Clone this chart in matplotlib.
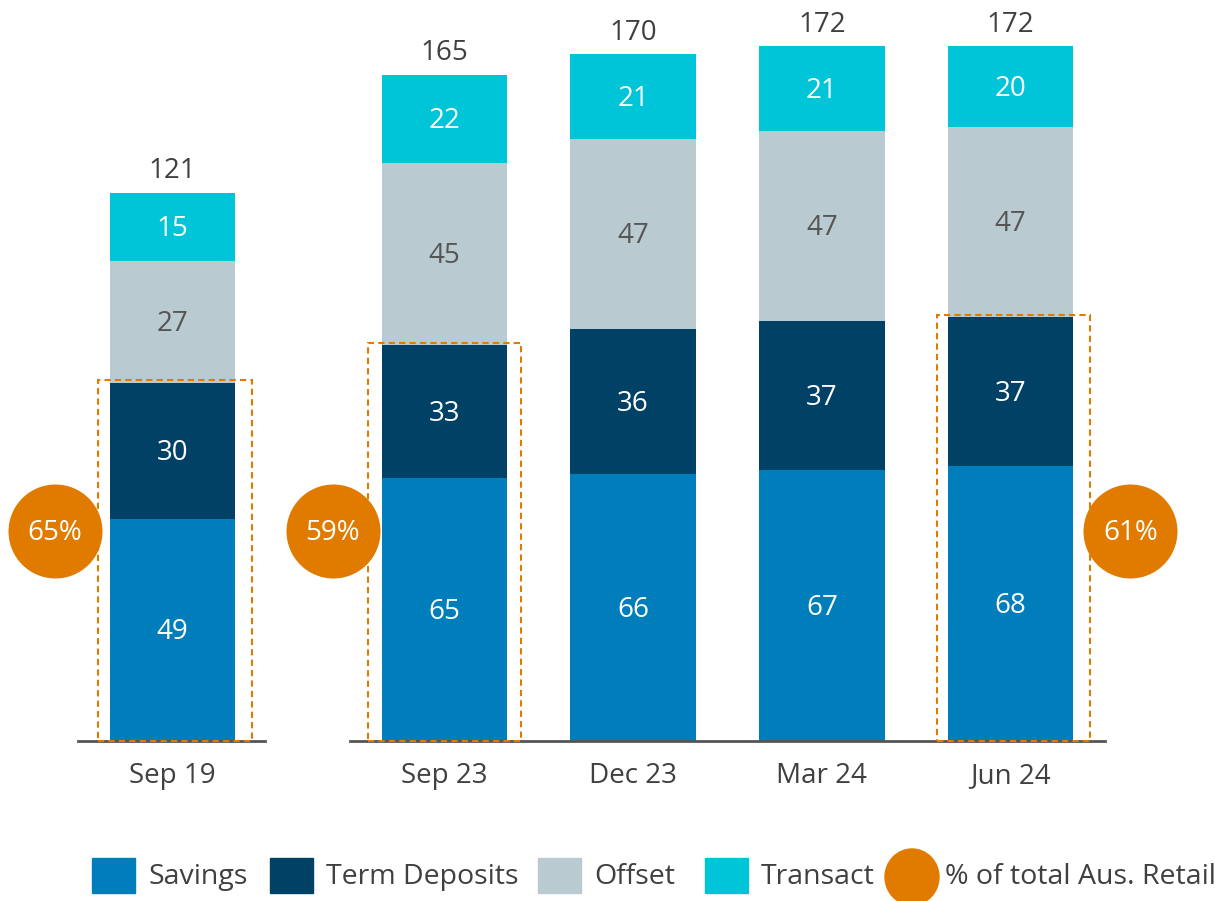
import matplotlib
matplotlib.use("Agg")
import matplotlib.pyplot as plt
from matplotlib.patches import Rectangle, Ellipse
from matplotlib.transforms import blended_transform_factory

plt.rcParams['font.family'] = ['Open Sans', 'DejaVu Sans']

categories = ['Sep 19', 'Sep 23', 'Dec 23', 'Mar 24', 'Jun 24']
savings = [49, 65, 66, 67, 68]
term_deposits = [30, 33, 36, 37, 37]
offset = [27, 45, 47, 47, 47]
transact = [15, 22, 21, 21, 20]
totals = [121, 165, 170, 172, 172]
share_idx = [0, 1, 4]
share_pct = ['65%', '59%', '61%']

C_SAV = '#007DBB'
C_TD = '#004165'
C_OFF = '#B9CAD1'
C_TR = '#00C4D7'
C_ORANGE = '#E07B00'
C_TXT = '#404040'
FS = 20

fig = plt.figure(figsize=(12.19, 9.01), dpi=100)
ax1 = fig.add_axes([78 / 1219, 160 / 901, 187 / 1219, 731 / 901])
ax2 = fig.add_axes([350 / 1219, 160 / 901, 755 / 1219, 731 / 901])

groups = [(ax1, [0], 161.4, (-0.5, 0.49)), (ax2, [1, 2, 3, 4], 181.0, (-0.5, 3.5))]
circle_dx = {0: -0.623, 1: -0.592, 4: 0.634}
rect_dx = {0: 0.012, 1: 0.0, 4: 0.015}
width = 0.665


def seg_label(ax, x, y, s, col):
    ax.annotate(s, (x, y), xytext=(0, -1.5), textcoords='offset points',
                ha='center', va='center', color=col, fontsize=FS)


for ax, idxs, ytop, xl in groups:
    xs = list(range(len(idxs)))
    sv = [savings[i] for i in idxs]
    td = [term_deposits[i] for i in idxs]
    of = [offset[i] for i in idxs]
    tr = [transact[i] for i in idxs]
    b1 = [s + t for s, t in zip(sv, td)]
    b2 = [a + o for a, o in zip(b1, of)]
    ax.bar(xs, sv, width, color=C_SAV)
    ax.bar(xs, td, width, bottom=sv, color=C_TD)
    ax.bar(xs, of, width, bottom=b1, color=C_OFF)
    ax.bar(xs, tr, width, bottom=b2, color=C_TR)
    for x, i in zip(xs, idxs):
        seg_label(ax, x, savings[i] / 2, str(savings[i]), 'white')
        seg_label(ax, x, savings[i] + term_deposits[i] / 2, str(term_deposits[i]), 'white')
        base = savings[i] + term_deposits[i]
        seg_label(ax, x, base + offset[i] / 2, str(offset[i]), '#555555')
        seg_label(ax, x, base + offset[i] + transact[i] / 2, str(transact[i]), 'white')
        ax.annotate(str(totals[i]), (x, totals[i]), xytext=(0, 15.5),
                    textcoords='offset points', ha='center', va='center',
                    color=C_TXT, fontsize=FS)
        if i in share_idx:
            ax.add_patch(Rectangle((x + rect_dx[i] - 0.407, 0), 0.814, base + 0.6,
                                   fill=False, edgecolor=C_ORANGE, lw=1.5,
                                   linestyle=(0, (3, 2)), clip_on=False, zorder=3))
            tf = blended_transform_factory(ax.transData, ax.transAxes)
            ax.scatter([x + circle_dx[i]], [0.287], s=4580, color=C_ORANGE,
                       transform=tf, clip_on=False, zorder=4, linewidths=0)
            ax.text(x + circle_dx[i], 0.285, share_pct[share_idx.index(i)],
                    transform=tf, ha='center', va='center', color='white',
                    fontsize=FS, zorder=5)
    ax.set_xlim(*xl)
    ax.set_ylim(0, ytop)
    ax.set_xticks(xs)
    ax.set_xticklabels([categories[i] for i in idxs], fontsize=FS, color=C_TXT)
    ax.tick_params(axis='x', length=0, pad=15)
    ax.set_yticks([])
    for s in ['top', 'left', 'right']:
        ax.spines[s].set_visible(False)
    ax.spines['bottom'].set_color('#555555')
    ax.spines['bottom'].set_linewidth(2)

# legend
legend_items = [('Savings', C_SAV, 92), ('Term Deposits', C_TD, 270),
                ('Offset', C_OFF, 538), ('Transact', C_TR, 705)]
ly = (901 - 877) / 901
for label, col, px in legend_items:
    fig.patches.append(Rectangle((px / 1219, 8 / 901), 43 / 1219, 35 / 901,
                                 color=col, transform=fig.transFigure, figure=fig))
    fig.text((px + 56) / 1219, ly, label, ha='left', va='center', fontsize=20.5,
             color=C_TXT)
fig.patches.append(Ellipse((912 / 1219, ly), 54 / 1219, 56 / 901, color=C_ORANGE,
                           transform=fig.transFigure, figure=fig))
fig.text(945 / 1219, ly, '% of total Aus. Retail', ha='left', va='center',
         fontsize=20.5, color=C_TXT)

fig.savefig('out.png', dpi=100)
